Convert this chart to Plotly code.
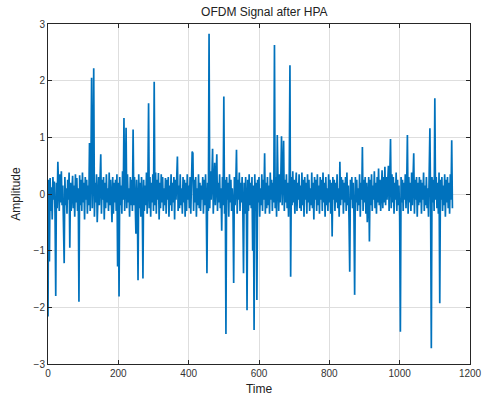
import plotly.graph_objects as go

# OFDM signal amplitude after the high-power amplifier, sampled every 2 time units
amplitude = [
    -2.16, 0.25, -1.19, 0.28, -0.3, 0.12, -0.45, 0.3, -0.1, 0.22, -0.35, -1.8, 0.2, -0.25, 0.57, 0.1, -0.3, 0.35, -0.15, 0.4, -0.2, 0.15, -0.4, -1.22,
    0.3, -0.2, 0.1, -0.35, 0.25, -0.1, 0.38, -0.95, 0.2, -0.3, 0.05, 0.32, -0.25, 0.15, -0.4, 0.35, -0.15, 0.28, -0.3, 0.1, -1.9, 0.33, -0.2, 0.25,
    -0.3, 0.38, -0.15, 0.2, -0.45, 0.3, -0.1, 0.25, -0.35, 0.15, -0.2, 0.9, -0.3, 0.4, 2.05, -0.25, 0.3, 2.22, -0.4, 0.2, -0.15, 0.35, -0.5, 0.1,
    0.3, -0.2, 0.15, 0.7, -0.35, 0.25, -0.1, 0.3, -0.45, 0.2, -0.25, 0.35, -0.15, 0.1, -0.3, 0.38, -0.2, 0.25, -0.1, -0.5, 0.3, -0.35, 0.2, -0.15,
    0.25, -0.3, 0.35, -1.28, 0.2, -1.81, 0.3, -0.2, 0.15, -0.35, 0.4, -0.1, 1.34, -0.3, 0.2, 1.17, -0.25, 0.35, -0.15, 0.1, -0.4, 0.3, -0.2, 0.25,
    -0.3, 1.14, -0.2, 0.3, -0.15, -0.7, 0.25, -0.1, -1.52, 0.35, -0.25, 0.2, -0.4, 0.3, -0.1, -1.49, 0.25, -0.3, 0.15, -0.2, 0.38, -0.35, 0.1, 1.6,
    -0.25, 0.3, -0.4, 0.2, -0.15, 0.35, -0.3, 1.98, -0.2, 0.38, -0.35, 0.25, -0.1, 0.37, -0.45, 0.2, -0.25, 0.35, -0.15, 0.3, -0.3, 0.1, -0.2, 0.28,
    -0.35, 0.25, -0.1, 0.3, -0.4, 0.15, -0.2, 0.35, -0.3, 0.2, -0.15, 0.3, -0.45, 0.25, -0.1, 0.2, 0.66, -0.3, 0.15, -0.25, 0.35, -0.2, 0.1, -0.35,
    0.3, -0.15, 0.25, -0.4, 0.2, -0.3, 0.35, -0.1, 0.15, -0.25, 0.3, -0.35, 0.2, 0.75, 0.72, -0.3, 0.25, -0.15, 0.3, -0.4, 0.1, -0.2, 0.35, -0.25,
    0.2, -0.3, 0.15, -0.1, 0.3, -0.35, 0.25, -0.2, 0.35, -0.15, -1.4, 0.2, -0.3, 2.83, -0.25, 0.4, -0.1, 0.3, 0.8, -0.35, 0.2, 0.55, -0.2, 0.3,
    0.7, -0.3, 0.2, -0.15, 0.35, -0.25, 0.1, -0.65, 0.3, -0.2, 1.72, -0.35, 0.25, -2.47, 0.3, -0.1, 0.2, -0.4, 0.35, -0.15, 0.25, -0.3, 0.1, -0.2,
    -1.57, 0.3, -0.2, 0.15, 0.78, -0.35, 0.25, -0.1, 0.38, -0.3, 0.2, -0.15, 0.3, -0.25, -1.4, 0.2, -0.35, 0.3, -0.1, -2.05, 0.25, -0.3, 0.35, -0.2,
    0.2, -0.25, 0.3, -1.0, 0.15, -2.4, 0.35, -0.3, 0.2, -1.87, 0.25, -0.15, 0.3, -0.4, 0.1, -0.2, 0.35, -0.3, 0.25, -0.1, 0.72, -0.35, 0.2, -0.25,
    0.3, -0.2, 0.15, -0.35, 0.38, -0.1, 0.25, -0.3, 0.2, -0.15, 2.63, -0.25, 0.3, -0.4, 1.04, 0.2, -0.3, 0.35, -0.15, 0.25, 1.02, -0.2, 0.3, 0.94,
    -0.3, 0.25, -0.15, 0.35, -0.25, 0.2, -0.4, 0.3, 2.27, -1.46, 0.3, -0.2, 0.4, -0.15, 0.25, -0.35, 0.1, 0.38, -0.3, 0.2, -0.1, 0.35, -0.25, 0.15,
    -0.3, 0.38, -0.2, 0.25, -0.4, 0.3, -0.1, 0.2, -0.35, 0.35, -0.15, 0.25, -0.3, 0.1, -0.2, 0.38, -0.25, 0.2, -0.45, 0.3, -0.1, 0.25, -0.3, 0.35,
    -0.2, 0.15, -0.35, 0.3, -0.1, 0.25, -0.3, 0.38, -0.15, 0.2, -0.4, 0.3, -0.2, 0.1, -0.3, 0.35, -0.15, 0.25, -0.35, 0.2, -0.75, 0.3, -0.1, 0.25,
    -0.3, 0.2, -0.15, 0.35, -0.25, 0.1, -0.4, 0.57, -0.2, 0.3, -0.1, 0.25, -0.35, 0.2, -0.15, 0.3, -0.3, 0.38, -0.2, 0.15, -0.45, -1.37, 0.25, -0.1,
    0.3, -0.25, 0.2, -0.35, -1.78, 0.3, -0.15, 0.25, -0.3, 0.1, -0.2, 0.35, -0.4, 0.2, -0.1, 0.83, -0.3, 0.25, -0.15, 0.3, -0.35, 0.2, -0.5, 0.15,
    0.3, -0.84, 0.25, -0.2, 0.35, -0.3, 0.15, -0.1, 0.4, -0.25, 0.2, -0.35, 0.3, -0.15, 0.45, -0.2, 0.25, -0.3, 0.1, 0.42, -0.25, 0.3, -0.15, 0.48,
    -0.2, 0.3, -0.1, 0.25, 0.5, -0.3, 0.2, 0.97, -0.25, 0.35, -0.15, 0.3, -0.35, 0.2, -0.1, 0.38, -0.3, 0.25, -0.2, 0.15, -0.4, -2.43, 0.3, -0.15,
    0.25, -0.3, 0.2, -0.1, 0.35, -0.25, 0.15, 1.04, -0.35, 0.3, -0.15, 0.2, -0.3, 0.38, -0.2, 0.1, 0.72, -0.35, 0.25, -0.1, 0.3, -0.4, 0.2, -0.2,
    0.3, -0.15, 0.25, -0.35, 0.2, -0.1, 0.38, -0.3, 0.15, -0.2, 0.3, -0.25, 0.1, -0.4, 0.35, 1.16, -0.2, -2.72, 0.3, -0.15, 0.25, -0.3, 1.69, -0.1,
    0.3, -0.25, 0.2, -0.35, 0.38, -1.93, 0.25, -0.1, 0.3, -0.3, 0.15, -0.2, 0.35, -0.4, 0.25, -0.15, 0.3, -0.25, 0.2, -0.35, 0.35, -0.1, 0.95, -0.25,
]
sample_step = 2
time = [i * sample_step for i in range(len(amplitude))]

x_ticks = [0, 200, 400, 600, 800, 1000, 1200]
y_ticks = [-3, -2, -1, 0, 1, 2, 3]

FONT = "Liberation Sans, Arial, Helvetica, sans-serif"

fig = go.Figure(
    go.Scatter(
        x=time,
        y=amplitude,
        mode="lines",
        line=dict(color="#0072BD", width=1.7),
        hoverinfo="x+y",
    )
)

axis_common = dict(
    showgrid=True,
    gridcolor="#dedede",
    gridwidth=1,
    zeroline=False,
    showline=True,
    linecolor="#262626",
    linewidth=1,
    mirror="ticks",
    ticks="inside",
    ticklen=4,
    tickcolor="#262626",
    tickfont=dict(family=FONT, size=10, color="#333333"),
)

fig.update_layout(
    width=494,
    height=408,
    margin=dict(l=48, r=13, t=24, b=44),
    paper_bgcolor="white",
    plot_bgcolor="white",
    showlegend=False,
    title=dict(
        text="OFDM Signal after HPA",
        x=0.535,
        xanchor="center",
        y=0.97,
        yanchor="middle",
        font=dict(family=FONT, size=12, color="#222222"),
    ),
    xaxis=dict(
        range=[0, 1200],
        tickvals=x_ticks,
        title=dict(text="Time", font=dict(family=FONT, size=12, color="#222222"), standoff=6),
        **axis_common,
    ),
    yaxis=dict(
        range=[-3, 3],
        tickvals=y_ticks,
        title=dict(text="Amplitude", font=dict(family=FONT, size=12, color="#222222"), standoff=10),
        **axis_common,
    ),
)

fig.write_html("out.html")
